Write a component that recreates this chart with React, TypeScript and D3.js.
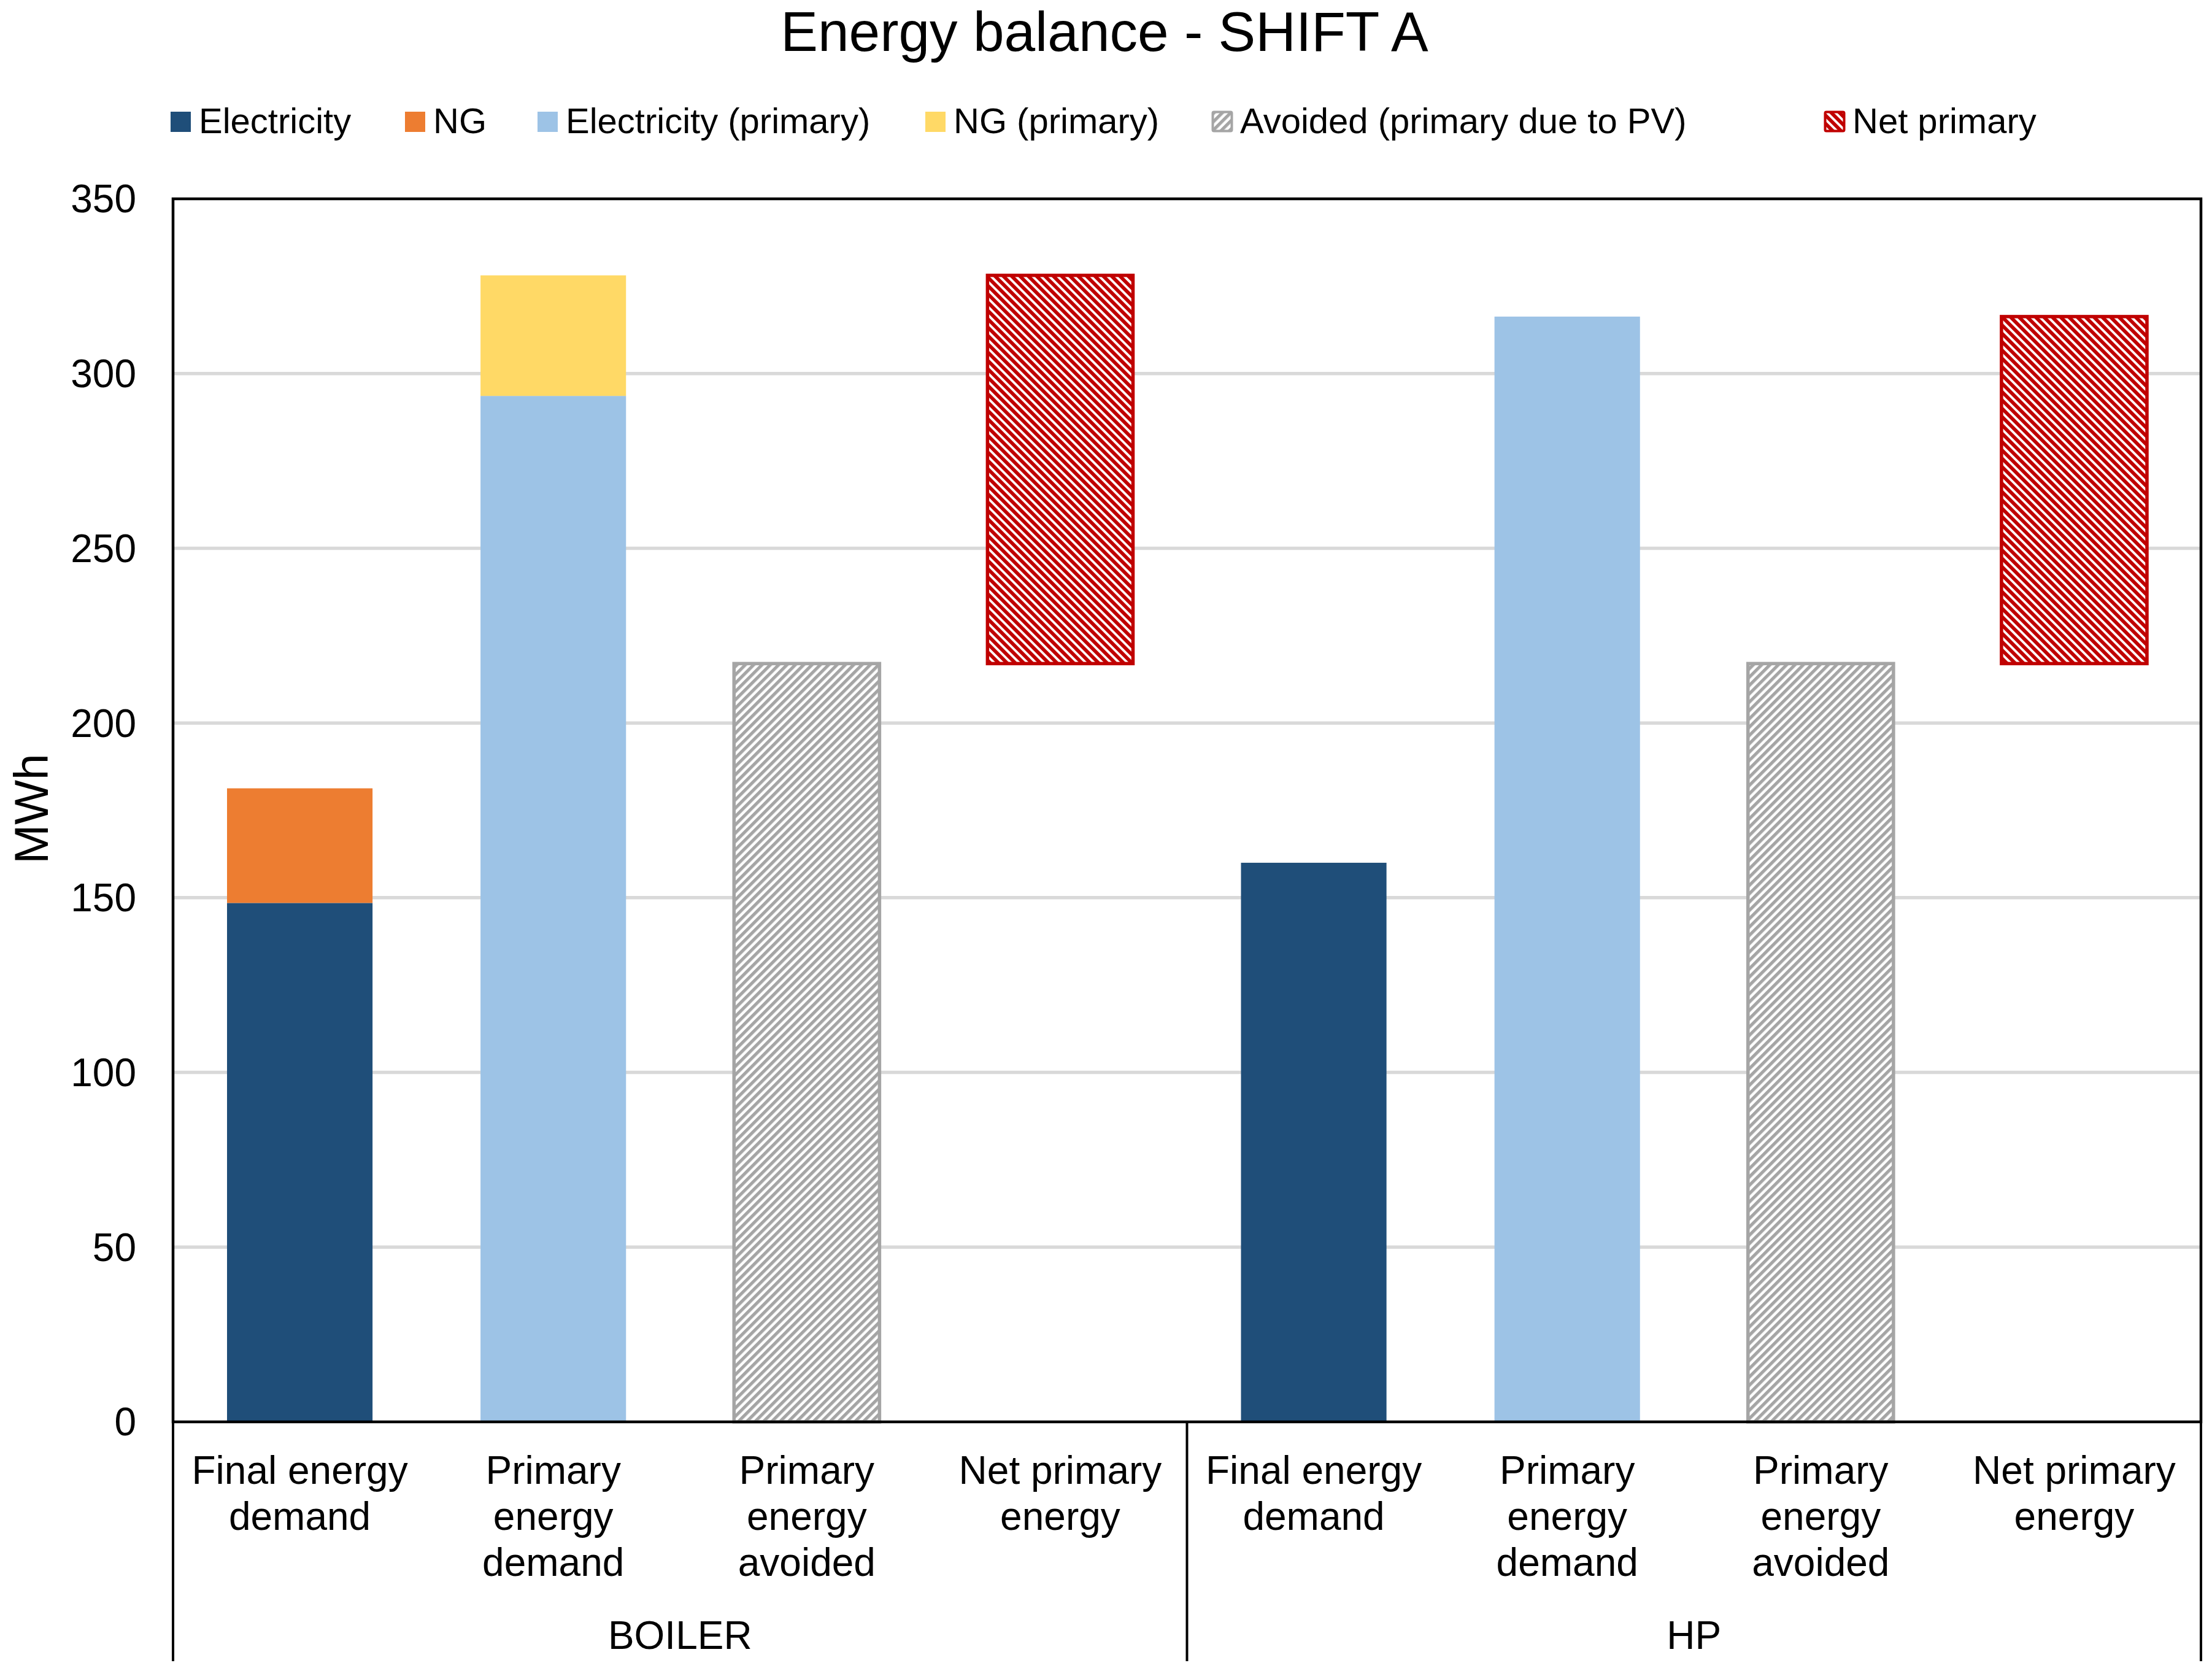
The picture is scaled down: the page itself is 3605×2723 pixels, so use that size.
import React from 'react';
import * as d3 from 'd3';

// chart data (MWh)
const groups = ['BOILER', 'HP'];
const categoryLines = [
  ['Final energy', 'demand'],
  ['Primary', 'energy', 'demand'],
  ['Primary', 'energy', 'avoided'],
  ['Net primary', 'energy'],
];
const electricity = [148.5, 0, 0, 0, 160.0, 0, 0, 0];
const ng = [32.8, 0, 0, 0, 0, 0, 0, 0];
const electricityPrimary = [0, 293.6, 0, 0, 0, 316.3, 0, 0];
const ngPrimary = [0, 34.5, 0, 0, 0, 0, 0, 0];
const avoided = [0, 0, 217.0, 0, 0, 0, 217.0, 0];
const netBase = [0, 0, 0, 217.0, 0, 0, 0, 217.0]; // invisible offset
const netPrimary = [0, 0, 0, 111.1, 0, 0, 0, 99.3];
const yTicks = [0, 50, 100, 150, 200, 250, 300, 350];

type Key = 'electricity' | 'ng' | 'electricityPrimary' | 'ngPrimary' | 'avoided' | 'netBase' | 'netPrimary';
const keys: Key[] = ['electricity', 'ng', 'electricityPrimary', 'ngPrimary', 'avoided', 'netBase', 'netPrimary'];

const series: { key: Key; label: string; fill: string; hatch?: string }[] = [
  { key: 'electricity', label: 'Electricity', fill: '#1F4E79' },
  { key: 'ng', label: 'NG', fill: '#ED7D31' },
  { key: 'electricityPrimary', label: 'Electricity (primary)', fill: '#9DC3E6' },
  { key: 'ngPrimary', label: 'NG (primary)', fill: '#FFD966' },
  { key: 'avoided', label: 'Avoided (primary due to PV)', fill: '#A5A5A5', hatch: 'hatchGrey' },
  { key: 'netPrimary', label: 'Net primary', fill: '#C00000', hatch: 'hatchRed' },
];
const legendX = [278, 660, 876, 1508, 1975, 2973];

const W = 3605;
const H = 2723;
const plot = { left: 282, right: 3587, top: 324, bottom: 2317 };
const FONT = '"Liberation Sans", Arial, sans-serif';

export default function App() {
  const rows = electricity.map((_, i) => ({
    idx: String(i),
    electricity: electricity[i],
    ng: ng[i],
    electricityPrimary: electricityPrimary[i],
    ngPrimary: ngPrimary[i],
    avoided: avoided[i],
    netBase: netBase[i],
    netPrimary: netPrimary[i],
  }));

  const x = d3
    .scaleBand<string>()
    .domain(rows.map((r) => r.idx))
    .range([plot.left, plot.right])
    .paddingInner(0.426)
    .paddingOuter(0.213);
  const y = d3.scaleLinear().domain([0, 350]).range([plot.bottom, plot.top]);

  const stacked = d3.stack<any, Key>().keys(keys)(rows);
  const groupX = d3
    .scaleBand<string>()
    .domain(groups)
    .range([plot.left, plot.right]);

  return (
    <svg width={W} height={H} style={{ position: 'absolute', left: 0, top: 0, background: '#fff' }} fontFamily={FONT}>
      <defs>
        <pattern id="hatchRed" patternUnits="userSpaceOnUse" width={9.6} height={9.6} patternTransform="rotate(-45)">
          <rect width={9.6} height={9.6} fill="#fff" />
          <rect width={5.8} height={9.6} fill="#C00000" />
        </pattern>
        <pattern id="hatchGrey" patternUnits="userSpaceOnUse" width={9.6} height={9.6} patternTransform="rotate(45)">
          <rect width={9.6} height={9.6} fill="#fff" />
          <rect width={5.2} height={9.6} fill="#A5A5A5" />
        </pattern>
      </defs>
      <rect width={W} height={H} fill="#fff" />

      <text x={1800} y={83} textAnchor="middle" fontSize={91}>
        Energy balance - SHIFT A
      </text>

      {/* legend */}
      {series.map((s, i) => (
        <g key={s.key}>
          {s.hatch ? (
            <rect x={legendX[i] + 1.5} y={182.5} width={31} height={31} fill={`url(#${s.hatch})`} stroke={s.fill} strokeWidth={4} rx={2} />
          ) : (
            <rect x={legendX[i]} y={182} width={33} height={33} fill={s.fill} />
          )}
          <text x={legendX[i] + 46} y={217} fontSize={58}>
            {s.label}
          </text>
        </g>
      ))}

      {/* gridlines */}
      {yTicks.filter((t) => t > 0 && t < 350).map((t) => (
        <line key={t} x1={plot.left} x2={plot.right} y1={y(t)} y2={y(t)} stroke="#D9D9D9" strokeWidth={5.5} />
      ))}

      {/* bars */}
      {stacked.map((layer) => {
        if (layer.key === 'netBase') return null;
        const s = series.find((d) => d.key === layer.key)!;
        return (
          <g key={layer.key}>
            {layer.map((d, i) => {
              if (d[1] - d[0] <= 0) return null;
              const bx = x(String(i))!;
              const y0 = y(d[0]);
              const y1 = y(d[1]);
              return s.hatch ? (
                <rect key={i} x={bx} y={y1} width={x.bandwidth()} height={y0 - y1} fill={`url(#${s.hatch})`} stroke={s.fill} strokeWidth={5.5} />
              ) : (
                <rect key={i} x={bx} y={y1} width={x.bandwidth()} height={y0 - y1} fill={s.fill} />
              );
            })}
          </g>
        );
      })}

      {/* plot frame */}
      <rect x={plot.left} y={plot.top} width={plot.right - plot.left} height={plot.bottom - plot.top} fill="none" stroke="#000" strokeWidth={4.5} />

      {/* y ticks */}
      {yTicks.map((t) => (
        <text key={t} x={222} y={y(t)} dy="0.35em" textAnchor="end" fontSize={64}>
          {t}
        </text>
      ))}
      <text transform={`translate(78, 1318) rotate(-90)`} textAnchor="middle" fontSize={77}>
        MWh
      </text>

      {/* category labels */}
      {rows.map((r, i) => (
        <text key={r.idx} x={x(r.idx)! + x.bandwidth() / 2} y={2418} textAnchor="middle" fontSize={64}>
          {categoryLines[i % 4].map((line, j) => (
            <tspan key={j} x={x(r.idx)! + x.bandwidth() / 2} y={2418 + j * 75}>
              {line}
            </tspan>
          ))}
        </text>
      ))}

      {/* group separators and labels */}
      {[plot.left, groupX('HP')!, plot.right].map((gx, i) => (
        <line key={i} x1={gx} x2={gx} y1={plot.bottom} y2={2707} stroke="#000" strokeWidth={4} />
      ))}
      {groups.map((g) => (
        <text key={g} x={groupX(g)! + groupX.bandwidth() / 2} y={2687} textAnchor="middle" fontSize={64}>
          {g}
        </text>
      ))}
    </svg>
  );
}
